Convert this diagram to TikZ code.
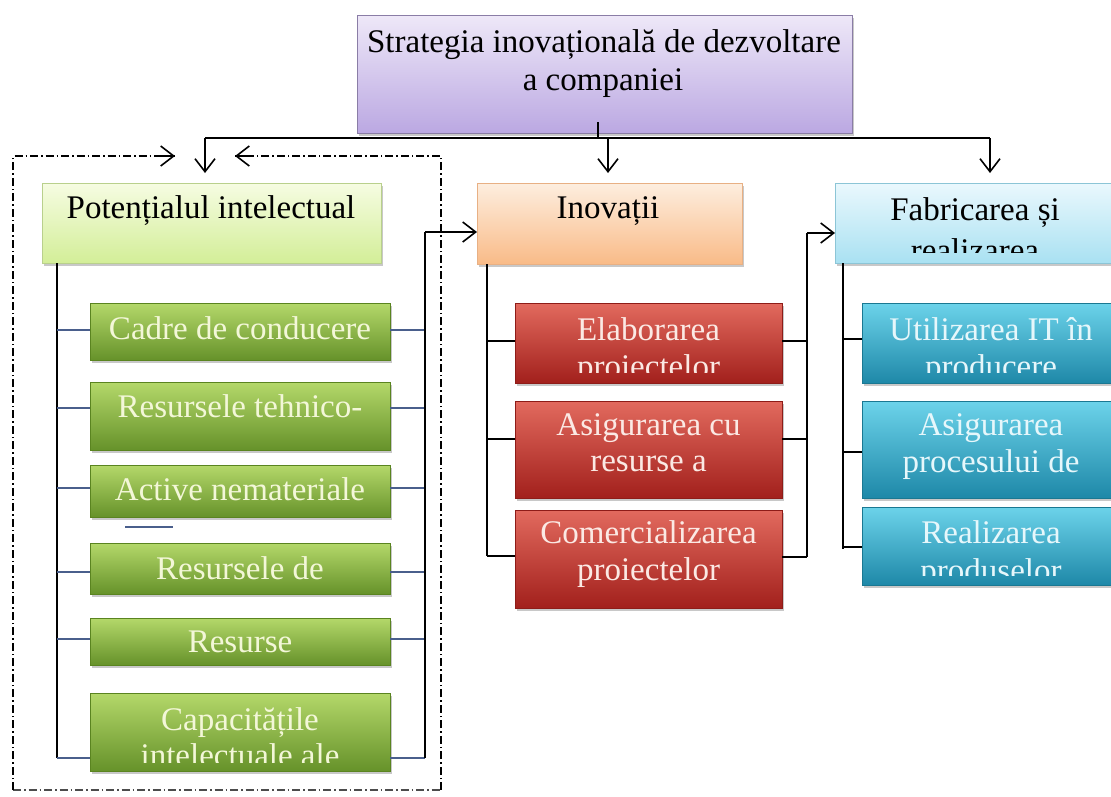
\documentclass[tikz,border=0pt]{standalone}
\usepackage{fontspec}
\setmainfont{Liberation Serif}
\usetikzlibrary{arrows.meta,shadows}
\definecolor{topA}{HTML}{EEE8F8}
\definecolor{topB}{HTML}{BBA8E2}
\definecolor{topL}{HTML}{8A7DA6}
\definecolor{potA}{HTML}{F6FCE2}
\definecolor{potB}{HTML}{D3EE98}
\definecolor{potL}{HTML}{B9D08C}
\definecolor{inoA}{HTML}{FDEEDF}
\definecolor{inoB}{HTML}{F9BB88}
\definecolor{inoL}{HTML}{E8B084}
\definecolor{fabA}{HTML}{EAF8FD}
\definecolor{fabB}{HTML}{A9E1F2}
\definecolor{fabL}{HTML}{8CC5D6}
\definecolor{grA}{HTML}{B4D86A}
\definecolor{grM}{HTML}{8CB83B}
\definecolor{grB}{HTML}{66922A}
\definecolor{grL}{HTML}{5A8420}
\definecolor{grT}{HTML}{F3F7D8}
\definecolor{rdA}{HTML}{E26A5E}
\definecolor{rdM}{HTML}{C6352D}
\definecolor{rdB}{HTML}{A2201C}
\definecolor{rdL}{HTML}{8E1C18}
\definecolor{rdT}{HTML}{FBE9E4}
\definecolor{cyA}{HTML}{6CD3EA}
\definecolor{cyM}{HTML}{30AECD}
\definecolor{cyB}{HTML}{1E88A8}
\definecolor{cyL}{HTML}{1A7892}
\definecolor{cyT}{HTML}{E6F7FB}
\definecolor{tickblue}{HTML}{4A5F8C}
\tikzset{
  vtip/.tip={Straight Barb[length=13pt,width=20pt,line width=1.6pt]},
}
\begin{document}
\begin{tikzpicture}[x=1pt,y=-1pt,
  box/.style={rectangle, outer sep=0pt, inner sep=0pt, line width=0.8pt,
    drop shadow={shadow xshift=2pt, shadow yshift=-3pt, opacity=0.3, fill=black!70}},
  topbox/.style={box, draw=topL, top color=topA, bottom color=topB},
  potbox/.style={box, draw=potL, top color=potA, bottom color=potB},
  inobox/.style={box, draw=inoL, top color=inoA, bottom color=inoB},
  fabbox/.style={box, draw=fabL, top color=fabA, bottom color=fabB},
  grbox/.style={box, draw=grL, top color=grA, middle color=grM, bottom color=grB, minimum width=300pt},
  rdbox/.style={box, draw=rdL, top color=rdA, middle color=rdM, bottom color=rdB, minimum width=267pt},
  cybox/.style={box, draw=cyL, top color=cyA, middle color=cyM, bottom color=cyB, minimum width=258pt},
  lbl/.style={anchor=base, inner sep=0pt, font=\fontsize{33}{38}\selectfont},
  grtxt/.style={lbl, text=grT},
  rdtxt/.style={lbl, text=rdT},
  cytxt/.style={lbl, text=cyT},
  conn/.style={line width=1.6pt, black},
  tick/.style={line width=1.1pt, tickblue},
  arr/.style={conn, arrows={-vtip}},
  dashdot/.style={line width=1.3pt, dash pattern=on 8pt off 3pt on 1.5pt off 3pt}
]
\useasboundingbox (0,0) rectangle (1111,796);
\fill[white] (0,0) rectangle (1111,796);

% ---------- dash-dot frame ----------
\coordinate (fTL) at (13,156);
\coordinate (fTR) at (441,156);
\coordinate (fBL) at (13,790);
\coordinate (fBR) at (441,790);
\coordinate (fArrL) at (175,156);
\coordinate (fArrR) at (235,156);
\draw[dashdot, black!70] (fBL) -- (fBR);
\draw[dashdot] (fBL) -- (fTL) -- (fArrL);
\draw[dashdot] (fBR) -- (fTR) -- (fArrR);
\draw[arr] (160,156) -- (fArrL);
\draw[arr] (250,156) -- (fArrR);

% ---------- boxes ----------
\node[topbox, minimum width=495pt, minimum height=118pt] (top) at (604.5,74) {};
\node[potbox, minimum width=339pt, minimum height=80pt] (pot) at (211.5,223) {};
\node[inobox, minimum width=265pt, minimum height=81pt] (ino) at (609.5,223.5) {};
\node[fabbox, minimum width=280pt, minimum height=80pt] (fab) at (975,223) {};

\node[grbox, minimum height=57pt] (g1) at (240,331.5) {};
\node[grbox, minimum height=68pt] (g2) at (240,416) {};
\node[grbox, minimum height=52pt] (g3) at (240,491) {};
\node[grbox, minimum height=51pt] (g4) at (240,568.5) {};
\node[grbox, minimum height=47pt] (g5) at (240,641.5) {};
\node[grbox, minimum height=78pt] (g6) at (240,732) {};

\node[rdbox, minimum height=80pt] (r1) at (648.5,343) {};
\node[rdbox, minimum height=97pt] (r2) at (648.5,449.5) {};
\node[rdbox, minimum height=98pt] (r3) at (648.5,559) {};

\node[cybox, minimum height=80pt] (c1) at (991,343) {};
\node[cybox, minimum height=97pt] (c2) at (991,449.5) {};
\node[cybox, minimum height=78pt] (c3) at (991,546) {};

% ---------- texts ----------
\node[lbl] (topT1) at (604,52) {Strategia inovațională de dezvoltare};
\node[lbl] (topT2) at (603,90) {a companiei};
\node[lbl] (potT) at (211,218) {Potențialul intelectual};
\node[lbl] (inoT) at (608,218) {Inovații};
\begin{scope}
  \clip (835,183) rectangle (1111,252);
  \node[lbl] (fabT1) at (975,220) {Fabricarea și};
  \node[lbl] (fabT2) at (975,261) {realizarea};
\end{scope}

\node[grtxt] (g1T) at (240,339) {Cadre de conducere};
\node[grtxt] (g2T) at (240,417) {Resursele tehnico-};
\node[grtxt] (g3T) at (240,500) {Active nemateriale};
\node[grtxt] (g4T) at (240,579) {Resursele de};
\node[grtxt] (g5T) at (240,652) {Resurse};
\begin{scope}
  \clip (90,693) rectangle (390,762);
  \node[grtxt] (g6T1) at (240,730) {Capacitățile};
  \node[grtxt] (g6T2) at (240,766) {intelectuale ale};
\end{scope}

\begin{scope}
  \clip (515,303) rectangle (782,372);
  \node[rdtxt] (r1T1) at (648.5,340) {Elaborarea};
  \node[rdtxt] (r1T2) at (648.5,377) {proiectelor};
\end{scope}
\node[rdtxt] (r2T1) at (648.5,435) {Asigurarea cu};
\node[rdtxt] (r2T2) at (648.5,471) {resurse a};
\node[rdtxt] (r3T1) at (648.5,543) {Comercializarea};
\node[rdtxt] (r3T2) at (648.5,580) {proiectelor};

\begin{scope}
  \clip (862,303) rectangle (1111,372);
  \node[cytxt] (c1T1) at (991,340) {Utilizarea IT în};
  \node[cytxt] (c1T2) at (991,377) {producere};
\end{scope}
\node[cytxt] (c2T1) at (991,435) {Asigurarea};
\node[cytxt] (c2T2) at (991,472) {procesului de};
\begin{scope}
  \clip (862,507) rectangle (1111,575);
  \node[cytxt] (c3T1) at (991,543) {Realizarea};
  \node[cytxt] (c3T2) at (991,581) {produselor};
\end{scope}

% ---------- top connector ----------
\coordinate (tStem) at (598,122);
\coordinate (hub) at (598,138);
\coordinate (hL) at (205,138);
\coordinate (hM) at (608,138);
\coordinate (hR) at (990,138);
\draw[conn] (tStem) -- (hub);
\draw[conn] (hL) -- (hR);
\draw[arr] (hL) -- (205,173);
\draw[arr] (hM) -- (608,173);
\draw[arr] (hR) -- (990,173);

% ---------- green brackets ----------
\draw[conn] (57,263) -- (57,758);
\foreach \n/\y in {g1/330, g2/408, g3/488, g4/572, g5/639, g6/758}{
  \draw[tick] (57,\y) -- (\n.west |- 0,\y);
  \draw[tick] (\n.east |- 0,\y) -- (425,\y);
}
\draw[conn] (425,758) -- (425,232);
\draw[arr] (425,232) -- (ino.west |- 0,232);
\draw[tickblue, line width=1.1pt] (125,527) -- (173,527);

% ---------- red brackets ----------
\draw[conn] (487,264) -- (487,556);
\foreach \n/\y in {r1/341, r2/439, r3/556}{
  \draw[conn] (487,\y) -- (\n.west |- 0,\y);
}
\foreach \n/\y in {r1/341, r2/439, r3/557}{
  \draw[conn] (\n.east |- 0,\y) -- (807,\y);
}
\draw[conn] (807,557) -- (807,233);
\draw[arr] (807,233) -- (fab.west |- 0,233);

% ---------- cyan brackets ----------
\draw[conn] (843,263) -- (843,549);
\foreach \n/\y in {c1/339, c2/452, c3/547}{
  \draw[conn] (843,\y) -- (\n.west |- 0,\y);
}
\end{tikzpicture}
\end{document}
